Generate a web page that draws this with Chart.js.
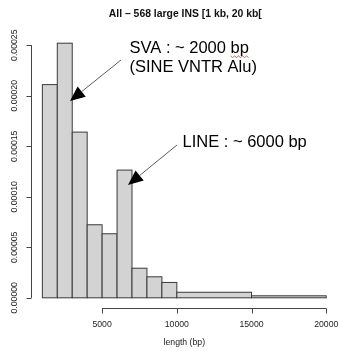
<!DOCTYPE html>
<html>
<head>
<meta charset="utf-8">
<script src="https://cdn.jsdelivr.net/npm/chart.js@4"></script>
<style>
  html, body { margin: 0; padding: 0; background: #fff; }
  #wrap { width: 339px; height: 351px; }
</style>
</head>
<body>
<div id="wrap"><canvas id="hist" width="339" height="351"></canvas></div>
<script>
// histogram bins (length in bp) and density per bin
const breaks = [1000, 2000, 3000, 4000, 5000, 6000, 7000, 8000, 9000, 10000, 15000, 20000];
const density = [0.000211, 0.000252, 0.000164, 0.0000723, 0.0000634, 0.0001264, 0.0000293, 0.0000208, 0.0000152, 0.0000055, 0.0000020];
const xTicks = [5000, 10000, 15000, 20000];
const yTicks = [0, 0.00005, 0.0001, 0.00015, 0.0002, 0.00025];
const yTickLabels = ['0.00000', '0.00005', '0.00010', '0.00015', '0.00020', '0.00025'];
const title = 'All \u2013 568 large INS [1 kb, 20 kb[';
const xTitle = 'length (bp)';

// R style 4% range extension
const xMin = breaks[0], xMax = breaks[breaks.length - 1];
const yMax = Math.max(...density);
const xPad = (xMax - xMin) * 0.04;
const yPad = yMax * 0.04;

const FONT = '"Liberation Sans", Arial, sans-serif';

function arrow(ctx, x1, y1, x2, y2) {
    const ang = Math.atan2(y2 - y1, x2 - x1);
    const len = 15, half = 6.5;
    const bx = x2 - len * Math.cos(ang), by = y2 - len * Math.sin(ang);
    ctx.strokeStyle = '#333';
    ctx.lineWidth = 0.8;
    ctx.beginPath();
    ctx.moveTo(x1, y1);
    ctx.lineTo(bx, by);
    ctx.stroke();
    ctx.fillStyle = '#000';
    ctx.beginPath();
    ctx.moveTo(x2, y2);
    ctx.lineTo(bx + half * Math.sin(ang), by - half * Math.cos(ang));
    ctx.lineTo(bx - half * Math.sin(ang), by + half * Math.cos(ang));
    ctx.closePath();
    ctx.fill();
}

const histPlugin = {
    id: 'histPlugin',
    afterDatasetsDraw(chart) {
        const ctx = chart.ctx;
        const xs = chart.scales.x, ys = chart.scales.y;
        const area = chart.chartArea;
        ctx.save();

        // bars
        ctx.fillStyle = '#d3d3d3';
        ctx.strokeStyle = '#3a3a3a';
        ctx.lineWidth = 1;
        const y0 = ys.getPixelForValue(0);
        for (let i = 0; i < density.length; i++) {
            const l = xs.getPixelForValue(breaks[i]);
            const r = xs.getPixelForValue(breaks[i + 1]);
            const t = ys.getPixelForValue(density[i]);
            ctx.fillRect(l, t, r - l, y0 - t);
            ctx.strokeRect(l, t, r - l, y0 - t);
        }

        // y axis
        ctx.strokeStyle = '#444';
        ctx.lineWidth = 1;
        const ax = Math.round(area.left) + 0.5;
        ctx.beginPath();
        ctx.moveTo(ax, ys.getPixelForValue(yTicks[0]));
        ctx.lineTo(ax, ys.getPixelForValue(yTicks[yTicks.length - 1]));
        yTicks.forEach(v => {
            const py = Math.round(ys.getPixelForValue(v)) + 0.5;
            ctx.moveTo(ax, py);
            ctx.lineTo(ax - 5, py);
        });
        ctx.stroke();
        ctx.fillStyle = '#222';
        ctx.font = '8.7px ' + FONT;
        ctx.textAlign = 'center';
        ctx.textBaseline = 'middle';
        yTicks.forEach((v, i) => {
            ctx.save();
            ctx.translate(15, ys.getPixelForValue(v));
            ctx.rotate(-Math.PI / 2);
            ctx.fillText(yTickLabels[i], 0, 0);
            ctx.restore();
        });

        // x axis
        const ay = Math.round(area.bottom) + 0.5;
        ctx.beginPath();
        ctx.moveTo(xs.getPixelForValue(xTicks[0]), ay);
        ctx.lineTo(xs.getPixelForValue(xTicks[xTicks.length - 1]), ay);
        xTicks.forEach(v => {
            const px = Math.round(xs.getPixelForValue(v)) + 0.5;
            ctx.moveTo(px, ay);
            ctx.lineTo(px, ay + 5);
        });
        ctx.stroke();
        xTicks.forEach(v => {
            ctx.fillText(String(v), xs.getPixelForValue(v), 325);
        });
        ctx.fillText(xTitle, (area.left + area.right) / 2, 343);

        // title
        ctx.fillStyle = '#111';
        ctx.font = 'bold 10.4px ' + FONT;
        ctx.fillText(title, (area.left + area.right) / 2 + 1, 14);

        // annotations
        ctx.fillStyle = '#000';
        ctx.font = '16.5px ' + FONT;
        ctx.textAlign = 'left';
        ctx.fillText('SVA : ~ 2000 bp', 129.5, 48);
        ctx.fillText('(SINE VNTR Alu)', 129.5, 67);
        ctx.fillText('LINE : ~ 6000 bp', 182.5, 142);

        // spell check squiggle under "bp"
        const bpX = 129.5 + ctx.measureText('SVA : ~ 2000 ').width;
        const bpW = ctx.measureText('bp').width;
        ctx.strokeStyle = '#e03030';
        ctx.lineWidth = 0.8;
        ctx.beginPath();
        for (let k = 0; k <= bpW; k += 2) {
            const yy = 56 + ((k / 2) % 2 === 0 ? 0 : 1.5);
            if (k === 0) ctx.moveTo(bpX + k, yy); else ctx.lineTo(bpX + k, yy);
        }
        ctx.stroke();

        arrow(ctx, 121, 60, 70, 101);
        arrow(ctx, 177, 145, 128, 185);

        ctx.restore();
    }
};

new Chart(document.getElementById('hist'), {
    type: 'scatter',
    data: {
        datasets: [{
            data: density.map((d, i) => ({ x: (breaks[i] + breaks[i + 1]) / 2, y: d })),
            pointRadius: 0,
            pointHoverRadius: 0
        }]
    },
    options: {
        responsive: false,
        animation: false,
        events: [],
        layout: { padding: { left: 31, right: 1.4, top: 33, bottom: 43 } },
        plugins: { legend: { display: false }, tooltip: { enabled: false }, title: { display: false } },
        scales: {
            x: { type: 'linear', display: false, min: xMin - xPad, max: xMax + xPad },
            y: { type: 'linear', display: false, min: -yPad, max: yMax + yPad }
        }
    },
    plugins: [histPlugin]
});
</script>
</body>
</html>
